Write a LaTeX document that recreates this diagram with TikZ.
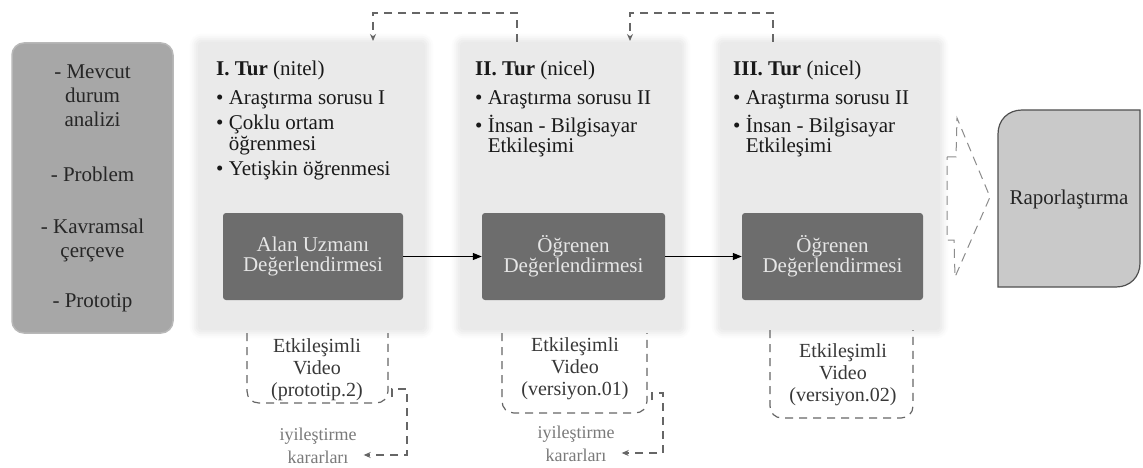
\documentclass[tikz,border=0pt]{standalone}
\usepackage{fontspec}
\setmainfont{Liberation Serif}
\usetikzlibrary{arrows.meta,backgrounds}
\definecolor{cLeft}{HTML}{A7A7A7}
\definecolor{cLeftEdge}{HTML}{B8B8B8}
\definecolor{cPanel}{HTML}{EAEAEA}
\definecolor{cGlowA}{HTML}{EEEEEE}
\definecolor{cGlowB}{HTML}{F3F3F3}
\definecolor{cGlowC}{HTML}{F8F8F8}
\definecolor{cGlowD}{HTML}{FCFCFC}
\definecolor{cDark}{HTML}{6D6D6D}
\definecolor{cLightText}{HTML}{E6E6E6}
\definecolor{cDash}{HTML}{666666}
\definecolor{cFb}{HTML}{7A7A7A}
\definecolor{cRap}{HTML}{C9C9C9}
\definecolor{cRapEdge}{HTML}{505050}
\definecolor{cBlock}{HTML}{8C8C8C}
\tikzset{
  leftbox/.style={fill=cLeft, draw=cLeftEdge, rounded corners=12pt, line width=1.5pt,
    minimum width=161pt, minimum height=290pt, align=center,
    font=\fontsize{21}{24}\selectfont, text=black!85},
  panelbox/.style={fill=cPanel, rounded corners=4pt, minimum height=288pt, inner sep=0pt},
  darkbox/.style={fill=cDark, rounded corners=3pt, minimum height=87pt, align=center,
    font=\fontsize{21}{20}\selectfont, text=cLightText},
  paneltext/.style={anchor=north west, inner sep=0pt, align=left,
    font=\fontsize{21}{20.5}\selectfont, text=black!90},
  vidtext/.style={align=center, inner sep=0pt, font=\fontsize{20}{22}\selectfont, text=black!78},
  fbtext/.style={align=center, inner sep=0pt, font=\fontsize{18}{23}\selectfont, text=cFb},
  dashline/.style={draw=cDash, line width=1.2pt, dash pattern=on 8pt off 6pt},
  fbarrow/.style={dashline, -{Stealth[length=7pt,width=6pt]}},
  mainarrow/.style={draw=black, line width=1.2pt, -{Triangle[length=9pt,width=7pt]}},
  blockarrow/.style={draw=cBlock, line width=1pt, dash pattern=on 9pt off 6pt},
  rapbox/.style={fill=cRap, draw=cRapEdge, line width=1.2pt},
  raptext/.style={font=\fontsize{21}{24}\selectfont, text=black!85},
}
\begin{document}
\begin{tikzpicture}[x=1pt,y=-1pt]
\useasboundingbox (0,0) rectangle (1143,468);
\begin{scope}[on background layer]
  \fill[white] (0,0) rectangle (1143,468);
\end{scope}

% left box
\node[leftbox] (pre) at (92.5,188)
  {- Mevcut\\durum\\analizi\\[31pt]- Problem\\[28pt]- Kavramsal\\çerçeve\\[26pt]- Prototip};

% panels
\node[panelbox, minimum width=227pt] (p1) at (311.5,186) {};
\node[panelbox, minimum width=222pt] (p2) at (571,186) {};
\node[panelbox, minimum width=220pt] (p3) at (830,186) {};
\begin{scope}[on background layer]
  \foreach \p in {p1,p2,p3}{
    \fill[cGlowD, rounded corners=12pt] ([shift={(-8,-8)}]\p.north west) rectangle ([shift={(8,8)}]\p.south east);
    \fill[cGlowC, rounded corners=10pt] ([shift={(-6,-6)}]\p.north west) rectangle ([shift={(6,6)}]\p.south east);
    \fill[cGlowB, rounded corners=8pt] ([shift={(-4,-4)}]\p.north west) rectangle ([shift={(4,4)}]\p.south east);
    \fill[cGlowA, rounded corners=6pt] ([shift={(-2,-2)}]\p.north west) rectangle ([shift={(2,2)}]\p.south east);
  }
\end{scope}

% panel texts
\node[paneltext] (t1) at (216,61)
  {\textbf{I. Tur} (nitel)\\[8.5pt]
   \textbullet\ Araştırma sorusu I\\[4.5pt]
   \textbullet\ Çoklu ortam\\
   \hphantom{\textbullet\ }öğrenmesi\\[4.5pt]
   \textbullet\ Yetişkin öğrenmesi};
\node[paneltext] (t2) at (475,61)
  {\textbf{II. Tur} (nicel)\\[8.5pt]
   \textbullet\ Araştırma sorusu II\\[4.5pt]
   \textbullet\ İnsan - Bilgisayar\\
   \hphantom{\textbullet\ }Etkileşimi};
\node[paneltext] (t3) at (733,61)
  {\textbf{III. Tur} (nicel)\\[8.5pt]
   \textbullet\ Araştırma sorusu II\\[4.5pt]
   \textbullet\ İnsan - Bilgisayar\\
   \hphantom{\textbullet\ }Etkileşimi};

% dark boxes
\node[darkbox, minimum width=180pt] (d1) at (313,256.5) {Alan Uzmanı\\Değerlendirmesi};
\node[darkbox, minimum width=183pt] (d2) at (573.5,256.5) {Öğrenen\\Değerlendirmesi};
\node[darkbox, minimum width=181pt] (d3) at (832.5,256.5) {Öğrenen\\Değerlendirmesi};
\draw[mainarrow] (d1.east) -- (d2.west);
\draw[mainarrow] (d2.east) -- (d3.west);

% video boxes (open top, dashed)
\draw[dashline] (247,333) -- (247,391) .. controls (247,398) and (252,403) .. (259,403)
  -- (376,403) .. controls (383,403) and (388,398) .. (388,391) -- (388,333);
\draw[dashline] (502,333) -- (502,401) .. controls (502,408) and (507,413) .. (514,413)
  -- (635,413) .. controls (642,413) and (647,408) .. (647,401) -- (647,333);
\draw[dashline] (770,330) -- (770,406) .. controls (770,413) and (775,418) .. (782,418)
  -- (901,418) .. controls (908,418) and (913,413) .. (913,406) -- (913,330);
\node[vidtext] (v1) at (317,370) {Etkileşimli\\Video\\(prototip.2)};
\node[vidtext] (v2) at (575,369) {Etkileşimli\\Video\\(versiyon.01)};
\node[vidtext] (v3) at (843,375) {Etkileşimli\\Video\\(versiyon.02)};

% improvement decisions
\node[fbtext] (fb1) at (318,446) {iyileştirme\\kararları};
\node[fbtext] (fb2) at (576,444) {iyileştirme\\kararları};
\coordinate (f1s) at (392,397);
\coordinate (f1e) at ([xshift=7pt]fb1.east |- 0,455);
\coordinate (f2s) at (652,400);
\coordinate (f2e) at ([xshift=7pt]fb2.east |- 0,453);
\draw[fbarrow] (f1s) |- (407,389) |- (f1e);
\draw[fbarrow] (f2s) |- (663,393) |- (f2e);

% top feedback arrows
\coordinate (u1s) at (517,42);
\coordinate (u1e) at (373,41);
\coordinate (u2s) at (773,42);
\coordinate (u2e) at (630,41);
\draw[fbarrow] (u1s) -- ++(0,-29) -| (u1e);
\draw[fbarrow] (u2s) -- ++(0,-29) -| (u2e);

% dashed block arrow
\draw[blockarrow] (947,157) -- (956,157) -- (957,118) -- (990,197) -- (955,277)
  -- (954,240) -- (947,240) -- cycle;

% reporting box
\filldraw[rapbox] (998,287) -- (998,134) .. controls (998,120) and (1008,110) .. (1022,110)
  -- (1140,110) -- (1140,263) .. controls (1140,277) and (1130,287) .. (1116,287) -- cycle;
\node[raptext] (rap) at (1069,199) {Raporlaştırma};
\end{tikzpicture}
\end{document}
